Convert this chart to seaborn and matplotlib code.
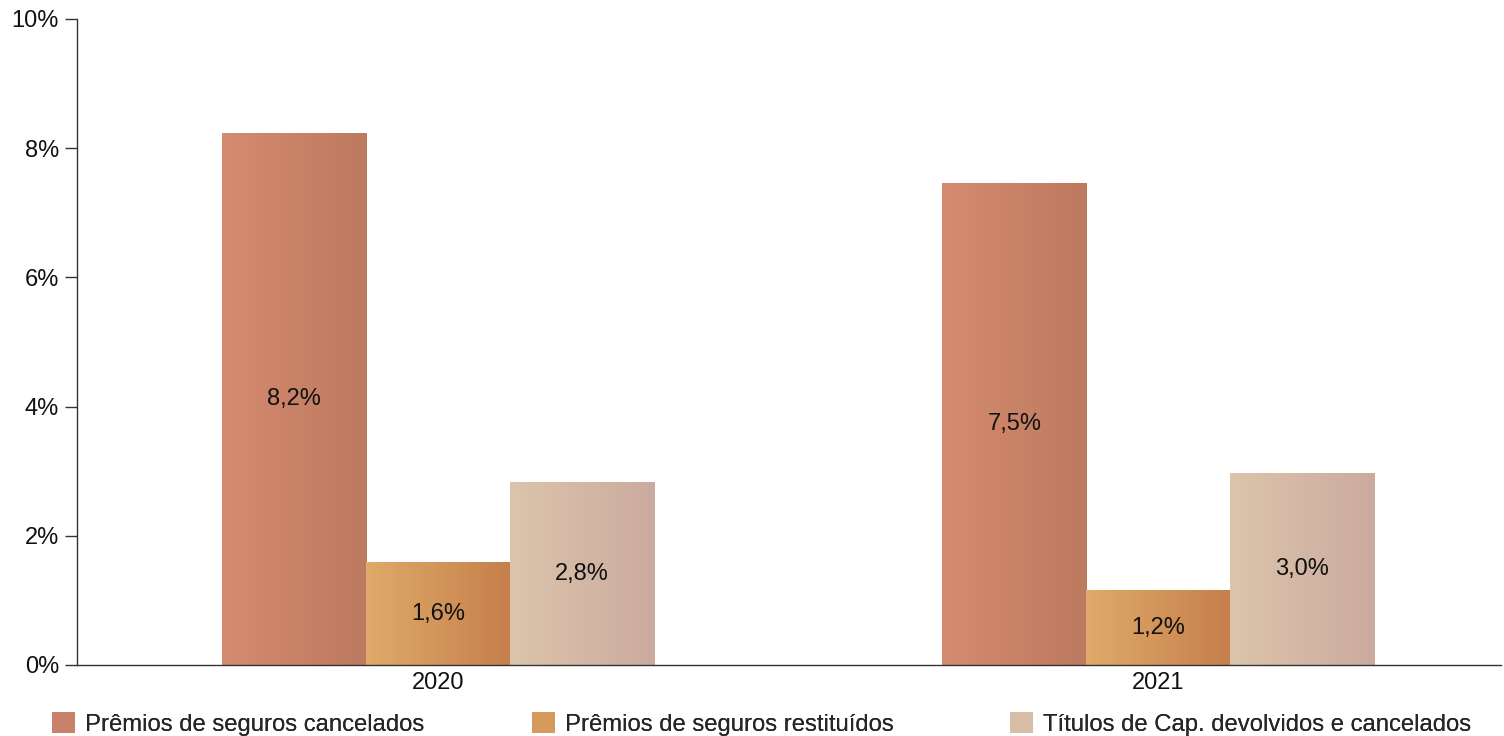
import matplotlib
matplotlib.use('Agg')
import matplotlib.pyplot as plt
import matplotlib.patches as mpatches
import numpy as np
import pandas as pd
import seaborn as sns

# data
anos = ['2020', '2021']
series = ['Prêmios de seguros cancelados',
          'Prêmios de seguros restituídos',
          'Títulos de Cap. devolvidos e cancelados']
valores_2020 = [8.22, 1.58, 2.82]
valores_2021 = [7.46, 1.16, 2.97]
rotulos_2020 = ['8,2%', '1,6%', '2,8%']
rotulos_2021 = ['7,5%', '1,2%', '3,0%']

# gradient colours (left -> right) per series
cor_esq = ['#d58b6f', '#dfaa6a', '#dcc4ab']
cor_dir = ['#bd7a5f', '#c67f4b', '#cbab9f']
cor_legenda = ['#c98169', '#d59a5c', '#d8bda6']

df = pd.DataFrame({
    'ano': anos * 3,
    'serie': [s for s in series for _ in anos],
    'valor': [valores_2020[i] if a == '2020' else valores_2021[i]
              for i in range(3) for a in anos],
    'rotulo': [rotulos_2020[i] if a == '2020' else rotulos_2021[i]
               for i in range(3) for a in anos],
})

sns.set_theme(style='white')
plt.rcParams['font.family'] = ['Liberation Sans', 'DejaVu Sans']

fig = plt.figure(figsize=(15.04, 7.36), dpi=100)
ax = fig.add_axes([0.0512, 0.0965, 0.9465, 0.8777])

sns.barplot(data=df, x='ano', y='valor', hue='serie', hue_order=series,
            order=anos, width=0.6, palette=cor_legenda, legend=False,
            linewidth=0, ax=ax)

# paint a horizontal gradient over each bar and put the value label in the middle
for k, cont in enumerate(ax.containers):
    grad = np.linspace(0, 1, 64)
    c0 = np.array(matplotlib.colors.to_rgb(cor_esq[k]))
    c1 = np.array(matplotlib.colors.to_rgb(cor_dir[k]))
    img = (c0[None, :] * (1 - grad[:, None]) + c1[None, :] * grad[:, None])[None, :, :]
    for j, bar in enumerate(cont.patches):
        x0 = bar.get_x()
        w = bar.get_width()
        h = bar.get_height()
        ax.imshow(img, extent=(x0, x0 + w, 0, h), aspect='auto',
                  interpolation='bilinear', zorder=bar.get_zorder() + 0.1)
        txt = df[(df.serie == series[k]) & (df.ano == anos[j])].rotulo.iloc[0]
        ax.text(x0 + w / 2, h / 2, txt, ha='center', va='center',
                fontsize=17, color='#111111', zorder=5)

ax.set_xlim(-0.501, 1.475)
ax.set_ylim(0, 10)
ax.set_yticks([0, 2, 4, 6, 8, 10])
ax.set_yticklabels([f'{v}%' for v in [0, 2, 4, 6, 8, 10]])
ax.set_xlabel('')
ax.set_ylabel('')
ax.tick_params(axis='y', length=9, width=1, color='#333333', labelsize=17,
               labelcolor='#111111', left=True, pad=4)
ax.tick_params(axis='x', length=0, labelsize=17, labelcolor='#111111', pad=5)
for s in ['top', 'right']:
    ax.spines[s].set_visible(False)
for s in ['left', 'bottom']:
    ax.spines[s].set_color('#333333')
    ax.spines[s].set_linewidth(1)

# one legend entry per series, spread evenly along the bottom
leg_x = [0.0346, 0.3537, 0.6715]
for k in range(3):
    h = mpatches.Patch(facecolor=cor_legenda[k], edgecolor='none')
    leg = fig.legend([h], [series[k]], loc='lower left',
                     bbox_to_anchor=(leg_x[k], 0.0), frameon=False,
                     fontsize=17.2, handlelength=0.95, handleheight=0.95,
                     handletextpad=0.45, borderaxespad=0, borderpad=0)
    fig.add_artist(leg)

fig.savefig('out.png', dpi=100)
